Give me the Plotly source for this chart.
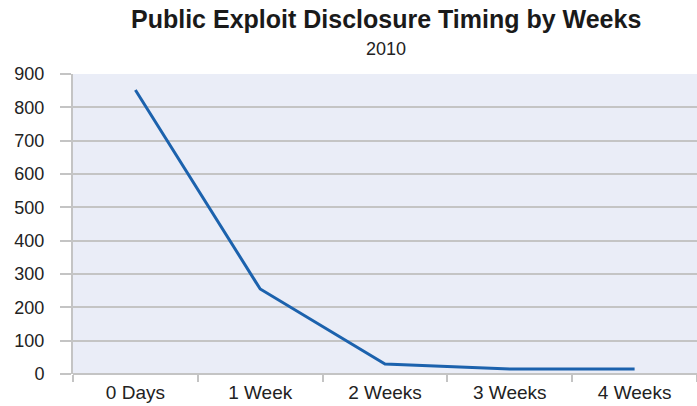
import plotly.graph_objects as go

categories = ["0 Days", "1 Week", "2 Weeks", "3 Weeks", "4 Weeks"]
values = [852, 255, 30, 15, 15]
y_ticks = [0, 100, 200, 300, 400, 500, 600, 700, 800, 900]

fig = go.Figure()
fig.add_trace(go.Scatter(
    x=categories, y=values, mode="lines",
    line=dict(color="#1c62ad", width=3),
    showlegend=False,
))

font = "Liberation Sans, Arial, sans-serif"
fig.update_layout(
    width=697, height=406,
    margin=dict(l=73, r=0, t=74, b=32),
    paper_bgcolor="white",
    plot_bgcolor="#eaedf7",
    font=dict(family=font, size=18, color="#222222"),
    annotations=[
        dict(text="<b>Public Exploit Disclosure Timing by Weeks</b>", xref="paper", yref="paper",
             x=0.502, y=1.183, showarrow=False, font=dict(size=25, color="#1a1a1a"),
             xanchor="center", yanchor="middle"),
        dict(text="2010", xref="paper", yref="paper", x=0.502, y=1.083, showarrow=False,
             font=dict(size=18, color="#222222"), xanchor="center", yanchor="middle"),
    ],
)
fig.update_xaxes(
    type="category", tickson="boundaries", ticks="outside", ticklen=7,
    tickcolor="#c4c4c4", tickwidth=2, showgrid=False,
    showline=False, range=[-0.5, 4.5], ticklabelstandoff=5,
    tickfont=dict(size=19),
)
fig.update_yaxes(
    range=[0, 900], tickvals=y_ticks, ticks="outside", ticklen=11,
    tickcolor="#c4c4c4", tickwidth=2, gridcolor="#c4c4c4", gridwidth=2,
    showline=True, linecolor="#c4c4c4", linewidth=2,
    zeroline=True, zerolinecolor="#c4c4c4", zerolinewidth=2,
    ticklabelstandoff=12,
)
fig.write_html("out.html")
